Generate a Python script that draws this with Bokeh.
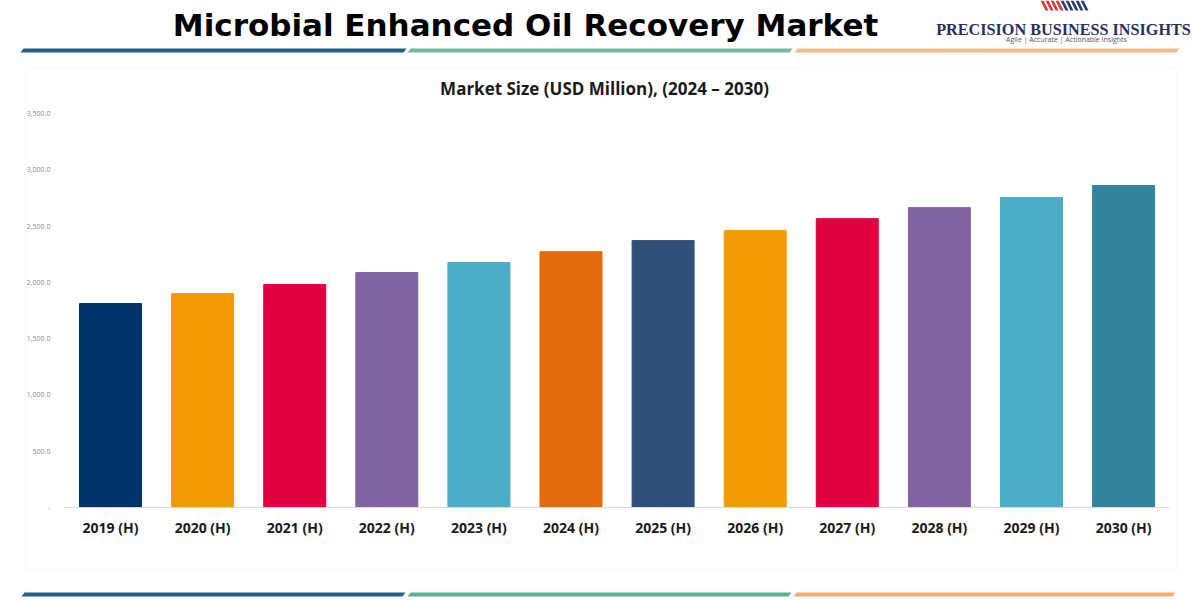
from bokeh.plotting import figure
from bokeh.models import (ColumnDataSource, Range1d, FixedTicker,
                          NumeralTickFormatter, Label, PolyAnnotation, BoxAnnotation)
from bokeh.embed import file_html
from bokeh.resources import INLINE

# ---- data ----
years = ["2019 (H)", "2020 (H)", "2021 (H)", "2022 (H)", "2023 (H)", "2024 (H)",
         "2025 (H)", "2026 (H)", "2027 (H)", "2028 (H)", "2029 (H)", "2030 (H)"]
market_size = [1812, 1900, 1980, 2087, 2176, 2273, 2371, 2460, 2566, 2664, 2753, 2860]
bar_colors = ["#00336C", "#F39A00", "#E2003F", "#8064A2", "#4BACC6", "#E26B0A",
              "#2F5078", "#F39A00", "#E2003F", "#8064A2", "#4BACC6", "#31849B"]
y_ticks = [0, 500, 1000, 1500, 2000, 2500, 3000, 3500]

title_text = "Microbial Enhanced Oil Recovery Market"
subtitle_text = "Market Size (USD Million), (2024 \u2013 2030)"
brand_text = "PRECISION BUSINESS INSIGHTS"
tagline_text = "Agile | Accurate | Actionable Insights"

# ---- layout (frame covers the whole canvas) ----
W, H = 1200, 600


def sx(fx):
    return fx


def sy(fy):
    return H - fy


positions = list(range(len(years)))
src = ColumnDataSource(dict(x=positions, year=years, value=market_size, color=bar_colors))

p = figure(width=W, height=H,
           x_range=Range1d(-1.1944, 11.835), y_range=Range1d(-826.1, 4503.8),
           output_backend="svg", toolbar_location=None,
           min_border_left=0, min_border_right=0, min_border_bottom=0, min_border_top=0)
p.title.visible = False
p.outline_line_color = None
p.xgrid.grid_line_color = None
p.ygrid.grid_line_color = None
p.background_fill_color = "white"
p.border_fill_color = "white"

# chart box
p.add_layout(BoxAnnotation(left=sx(25), right=sx(1176), top=sy(68), bottom=sy(569),
                           left_units="screen", right_units="screen",
                           top_units="screen", bottom_units="screen",
                           fill_color=None, line_color="#ebebeb", line_width=1,
                           level="underlay"))

p.vbar(x="x", top="value", width=0.673, color="color", source=src)

# axes (drawn at fixed locations inside the frame)
xa = p.xaxis[0]
xa.fixed_location = 0
xa.bounds = (-0.5, 11.5)
xa.ticker = FixedTicker(ticks=positions)
xa.major_label_overrides = {i: y for i, y in zip(positions, years)}
xa.axis_line_color = "#d9d9d9"
xa.major_tick_line_color = None
xa.minor_tick_line_color = None
xa.major_label_text_font = "Open Sans"
xa.major_label_text_font_style = "bold"
xa.major_label_text_font_size = "14px"
xa.major_label_text_color = "#1a1a1a"
xa.major_label_standoff = 4

ya = p.yaxis[0]
ya.fixed_location = -0.5
ya.ticker = FixedTicker(ticks=y_ticks)
ya.formatter = NumeralTickFormatter(format="0,0.0")
ya.major_label_overrides = {0: "-"}
ya.axis_line_color = None
ya.major_tick_line_color = None
ya.minor_tick_line_color = None
ya.major_label_text_font = "Open Sans"
ya.major_label_text_font_size = "7px"
ya.major_label_text_color = "#8a8a8a"
ya.major_label_standoff = 8

# header texts
p.add_layout(Label(x=sx(525), y=sy(24), x_units="screen", y_units="screen",
                   text=title_text, text_align="center", text_baseline="alphabetic",
                   text_font="DejaVu Sans", text_font_style="bold", text_font_size="31px",
                   text_color="#000000"))
p.add_layout(Label(x=sx(604), y=sy(88), x_units="screen", y_units="screen",
                   text=subtitle_text, text_align="center", text_baseline="middle",
                   text_font="Open Sans", text_font_style="bold", text_font_size="17px",
                   text_color="#1a1a1a"))
p.add_layout(Label(x=sx(1063), y=sy(29), x_units="screen", y_units="screen",
                   text=brand_text, text_align="center", text_baseline="alphabetic",
                   text_font="Liberation Serif", text_font_style="bold", text_font_size="16.2px",
                   text_color="#2B2F5E"))
p.add_layout(Label(x=sx(1066), y=sy(39), x_units="screen", y_units="screen",
                   text=tagline_text, text_align="center", text_baseline="middle",
                   text_font="Open Sans", text_font_size="7px",
                   text_color="#555555"))

# logo stripes
for i in range(4):
    x0 = 1040 + i * 5
    p.add_layout(PolyAnnotation(xs=[sx(x0), sx(x0 + 3), sx(x0 + 8), sx(x0 + 5)],
                                ys=[sy(0), sy(0), sy(10), sy(10)],
                                xs_units="screen", ys_units="screen",
                                fill_color="#D9393F", fill_alpha=1, line_color=None))
for i in range(5):
    x1 = 1060 + i * 5
    p.add_layout(PolyAnnotation(xs=[sx(x1), sx(x1 + 3), sx(x1 + 8), sx(x1 + 5)],
                                ys=[sy(0), sy(0), sy(10), sy(10)],
                                xs_units="screen", ys_units="screen",
                                fill_color="#2C3E6E", fill_alpha=1, line_color=None))


# decorative rules
def rule(x0, x1, ytop, color):
    t = 4
    p.add_layout(PolyAnnotation(xs=[sx(x0 + 3), sx(x1 + 3), sx(x1), sx(x0)],
                                ys=[sy(ytop), sy(ytop), sy(ytop + t), sy(ytop + t)],
                                xs_units="screen", ys_units="screen",
                                fill_color=color, fill_alpha=1, line_color=None))


rule(20, 403, 48, "#215F82")
rule(407, 789, 48, "#72B89C")
rule(794, 1176, 48, "#EDBE86")
rule(21, 402, 592, "#235F87")
rule(407, 788, 592, "#5FAE94")
rule(793, 1172, 592, "#EFAE74")

open("out.html", "w").write(file_html(p, INLINE))
